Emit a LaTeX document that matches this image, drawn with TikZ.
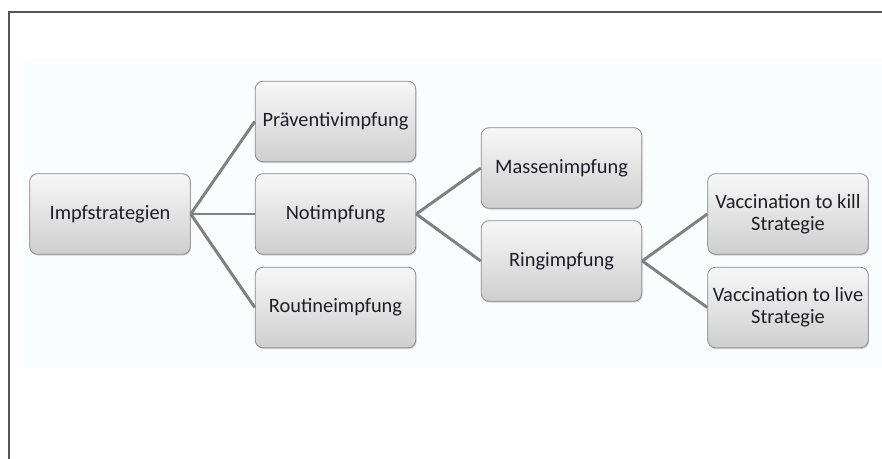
\documentclass[tikz,border=0pt]{standalone}
\usepackage{fontspec}
\setmainfont{Carlito}
\usepackage{xcolor}
\usepackage{tikz}
\usetikzlibrary{shadows, positioning}

\definecolor{frameline}{HTML}{555555}
\definecolor{bgtint}{HTML}{FAFDFD}
\definecolor{boxline}{HTML}{8A8A8A}
\definecolor{linkgray}{HTML}{808080}
\definecolor{txtdark}{HTML}{1E1E28}

\begin{document}
\begin{tikzpicture}[
    x=0.75pt, y=-0.75pt,
    strat/.style={draw=boxline, line width=0.6pt, rounded corners=6pt,
                  minimum width=120.5pt, minimum height=60.5pt, inner sep=1pt,
                  top color=gray!6, bottom color=gray!38,
                  drop shadow={opacity=0.35, shadow xshift=0.6pt, shadow yshift=-1pt},
                  font=\fontsize{15.3}{16.5}\selectfont, text=txtdark, align=center},
    link/.style={line width=2.2pt, color=linkgray}
]
\useasboundingbox (0,0) rectangle (882,459);
% frame and background
\fill[bgtint] (23,58) rectangle (882,368);
\draw[frameline, line width=1.4pt] (9,459) -- (9,12) -- (882,12);

% Level 0
\node[strat] (imp) at (110, 214) {Impfstrategien};

% Level 1
\node[strat] (prae) at (335.5, 121.5) {Präventivimpfung};
\node[strat] (not) at (335.5, 214) {Notimpfung};
\node[strat] (rout) at (335.5, 307.5) {Routineimpfung};

% Level 2
\node[strat] (mass) at (561.5, 168) {Massenimpfung};
\node[strat] (ring) at (561.5, 261) {Ringimpfung};

% Level 3
\node[strat] (kill) at (788, 214) {Vaccination to kill\\Strategie};
\node[strat] (live) at (788, 307.5) {Vaccination to live\\Strategie};

% Links
\draw[link] (imp.east) -- (prae.west);
\draw[link] (imp.east) -- (not.west);
\draw[link] (imp.east) -- (rout.west);
\draw[link] (not.east) -- (mass.west);
\draw[link] (not.east) -- (ring.west);
\draw[link] (ring.east) -- (kill.west);
\draw[link] (ring.east) -- (live.west);
\end{tikzpicture}
\end{document}
